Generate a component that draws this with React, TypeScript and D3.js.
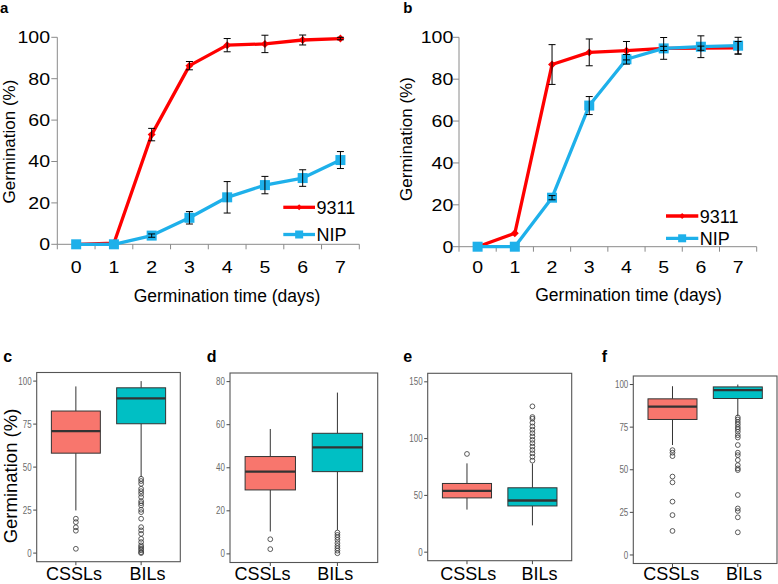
import React from "react";
import * as d3 from "d3";

// ---------- Line charts (a, b) ----------
const days = [0, 1, 2, 3, 4, 5, 6, 7];
const yTicksLine = [0, 20, 40, 60, 80, 100];
const seriesNames = ["9311", "NIP"];

const a9311 = [0, 0.5, 53, 86.3, 96.2, 96.8, 98.7, 99.4];
const a9311Err = [0, 0, 3, 2, 3.2, 4.2, 2.4, 0.6];
const aNIP = [0, 0, 4.2, 12.8, 22.7, 28.6, 32, 40.7];
const aNIPErr = [0, 0, 0.8, 3, 7.6, 4.2, 4, 4.1];

const b9311 = [0, 6.4, 87, 92.8, 93.6, 94.7, 94.8, 95];
const b9311Err = [0, 0, 9.5, 6.4, 4.4, 1, 1, 3];
const bNIP = [0, 0, 23.4, 67.4, 89.5, 94.7, 95.5, 96];
const bNIPErr = [0, 0, 1, 4.3, 2.3, 5.2, 5.2, 4];

// ---------- Box plots (c, d, e, f) ----------
const groups = ["CSSLs", "BILs"];

const cLow = [24.8, 44.2];
const cQ1 = [58.1, 75.2];
const cMed = [70.9, 90];
const cQ3 = [82.6, 96.1];
const cHigh = [96.9, 100];
const cOutCSSL = [20, 18, 15, 13, 2.5];
const cOutBIL = [43.2, 41.9, 40.3, 37.4, 36, 34.5, 32.6, 30.2, 29, 27.7, 25.2, 23.8, 20, 15.1, 13.2, 11.2, 8.3, 6.4, 4.5, 3.5, 2.5, 1.6, 0.5, 0];
const cTicks = [0, 25, 50, 75, 100];

const dLow = [10.4, 11.1];
const dQ1 = [29.7, 38.2];
const dMed = [38.2, 49.5];
const dQ3 = [45.2, 56];
const dHigh = [58, 74.9];
const dOutCSSL = [6.8, 2.2];
const dOutBIL = [9.9, 8.8, 7.7, 6.5, 5, 3.7, 2.6, 1.5, 0.3];
const dTicks = [0, 20, 40, 60, 80];

const eLow = [37.5, 23.6];
const eQ1 = [47.8, 40.7];
const eMed = [54, 45.5];
const eQ3 = [60.5, 56.7];
const eHigh = [78.2, 78];
const eOutCSSL = [86.5];
const eOutBIL = [128.4, 119, 117.5, 114, 110.7, 107.8, 104.8, 101.9, 98.9, 96, 93, 90, 87, 84, 80.6];
const eTicks = [0, 50, 100, 150];

const fLow = [64.5, 81.5];
const fQ1 = [79.5, 91.8];
const fMed = [87, 96.7];
const fQ3 = [91.6, 98.6];
const fHigh = [99, 100];
const fOutCSSL = [61.5, 60, 58, 46, 42.6, 31.3, 23.4, 14.1];
const fOutBIL = [80.7, 79.5, 78, 76.6, 75, 73.8, 72.3, 70.3, 68.9, 64.5, 60, 58.6, 55.7, 52.7, 50.8, 49.8, 35.2, 27.3, 25.8, 22.1, 13.3];
const fTicks = [0, 25, 50, 75, 100];

const RED = "#FF0000";
const BLUE = "#1EB0EA";
const AXIS = "#8A8A8A";
const FONT = "'Liberation Sans', Arial, sans-serif";

type LineProps = {
  label: string;
  labelX: number;
  xRange: [number, number];
  yRange: [number, number];
  s1: number[]; e1: number[]; s2: number[]; e2: number[];
  yLabelEnd: number;
  xTitleX: number; xTitleY: number;
  yTitleX: number; yTitleY: number;
  legX: [number, number]; legY: [number, number];
};

function LinePanel(p: LineProps) {
  const x = d3.scaleBand<number>().domain(days).range(p.xRange);
  const cx = (d: number) => (x(d) as number) + x.bandwidth() / 2;
  const y = d3.scaleLinear().domain([0, 100]).range(p.yRange);
  const line = d3.line<number>().x((_, i) => cx(days[i])).y((v) => y(v));
  const bounds = d3.range(days.length + 1).map((i) => p.xRange[0] + i * x.bandwidth());
  const diamond = d3.symbol().type(d3.symbolDiamond2).size(40)() as string;
  const diamondL = d3.symbol().type(d3.symbolDiamond2).size(22)() as string;
  const errs = (s: number[], e: number[], key: string) =>
    s.map((v, i) =>
      e[i] > 0 ? (
        <g key={key + i} stroke="#000" strokeWidth={1}>
          <line x1={cx(days[i])} x2={cx(days[i])} y1={y(v - e[i])} y2={y(v + e[i])} />
          <line x1={cx(days[i]) - 3.5} x2={cx(days[i]) + 3.5} y1={y(v + e[i])} y2={y(v + e[i])} />
          <line x1={cx(days[i]) - 3.5} x2={cx(days[i]) + 3.5} y1={y(v - e[i])} y2={y(v - e[i])} />
        </g>
      ) : null
    );
  return (
    <g fontFamily={FONT}>
      <text x={p.labelX} y={12.7} fontSize={15} fontWeight="bold">{p.label}</text>
      <line x1={p.xRange[0]} x2={p.xRange[0]} y1={p.yRange[0]} y2={p.yRange[1]} stroke={AXIS} />
      <line x1={p.xRange[0]} x2={p.xRange[1]} y1={p.yRange[0]} y2={p.yRange[0]} stroke={AXIS} />
      {yTicksLine.map((t) => (
        <g key={"yt" + t}>
          <line x1={p.xRange[0] - 6} x2={p.xRange[0]} y1={y(t)} y2={y(t)} stroke={AXIS} />
          <text transform={`translate(${p.yLabelEnd},${y(t) + 5.8}) scale(1.22,1)`} textAnchor="end" fontSize={16}>{t}</text>
        </g>
      ))}
      {bounds.map((b, i) => (
        <line key={"xb" + i} x1={b} x2={b} y1={p.yRange[0]} y2={p.yRange[0] + 5} stroke={AXIS} />
      ))}
      {days.map((d) => (
        <text key={"xt" + d} transform={`translate(${cx(d)},${272.5}) scale(1.22,1)`} textAnchor="middle" fontSize={16}>{d}</text>
      ))}
      <text x={p.xTitleX} y={p.xTitleY} textAnchor="middle" fontSize={17.5}>Germination time (days)</text>
      <text transform={`translate(${p.yTitleX},${p.yTitleY}) rotate(-90)`} textAnchor="middle" fontSize={17}>Germination (%)</text>
      <path d={line(p.s1) as string} fill="none" stroke={RED} strokeWidth={3.3} strokeLinejoin="round" />
      {p.s1.map((v, i) => (
        <path key={"m1" + i} d={diamond} transform={`translate(${cx(days[i])},${y(v)})`} fill={RED} />
      ))}
      <path d={line(p.s2) as string} fill="none" stroke={BLUE} strokeWidth={3.3} strokeLinejoin="round" />
      {p.s2.map((v, i) => (
        <rect key={"m2" + i} x={cx(days[i]) - 5} y={y(v) - 5} width={10} height={10} fill={BLUE} />
      ))}
      {errs(p.s1, p.e1, "e1")}
      {errs(p.s2, p.e2, "e2")}
      <line x1={p.legX[0]} x2={p.legX[1]} y1={p.legY[0]} y2={p.legY[0]} stroke={RED} strokeWidth={3.3} />
      <path d={diamondL} transform={`translate(${(p.legX[0] + p.legX[1]) / 2},${p.legY[0]})`} fill={RED} />
      <text x={p.legX[1] + 1.5} y={p.legY[0] + 6.5} fontSize={18}>{seriesNames[0]}</text>
      <line x1={p.legX[0]} x2={p.legX[1]} y1={p.legY[1]} y2={p.legY[1]} stroke={BLUE} strokeWidth={3.3} />
      <rect x={(p.legX[0] + p.legX[1]) / 2 - 4} y={p.legY[1] - 4} width={8} height={8} fill={BLUE} />
      <text x={p.legX[1] + 1.5} y={p.legY[1] + 6.5} fontSize={18}>{seriesNames[1]}</text>
    </g>
  );
}

type BoxProps = {
  label: string; labelX: number;
  left: number; right: number; top: number; bottom: number;
  domain: [number, number];
  ticks: number[];
  low: number[]; q1: number[]; med: number[]; q3: number[]; high: number[];
  outs: number[][];
  labelXs: [number, number];
  yTitle?: boolean;
};

const FILLS = ["#F8766D", "#00BFC4"];

function BoxPanel(p: BoxProps) {
  const x = d3.scaleLinear().domain([0.4, 2.6]).range([p.left, p.right]);
  const y = d3.scaleLinear().domain(p.domain).range([p.bottom, p.top]);
  const bw = x(1.375) - x(1);
  return (
    <g fontFamily={FONT}>
      <text x={p.labelX} y={362} fontSize={16} fontWeight="bold">{p.label}</text>
      {p.yTitle ? (
        <text transform={`translate(16.5,476) rotate(-90)`} textAnchor="middle" fontSize={18.5}>Germination (%)</text>
      ) : null}
      {p.ticks.map((t) => (
        <g key={"t" + t}>
          <line x1={p.left - 3.5} x2={p.left} y1={y(t)} y2={y(t)} stroke="#333" strokeWidth={0.9} />
          <text transform={`translate(${p.left - 5},${y(t) + 3.6}) scale(0.8,1)`} textAnchor="end" fontSize={10} fill="#6b6b6b">{t}</text>
        </g>
      ))}
      {groups.map((g, i) => {
        const c = x(i + 1);
        return (
          <g key={g}>
            <line x1={c} x2={c} y1={y(p.high[i])} y2={y(p.q3[i])} stroke="#333" strokeWidth={1} />
            <line x1={c} x2={c} y1={y(p.q1[i])} y2={y(p.low[i])} stroke="#333" strokeWidth={1} />
            <rect x={c - bw} y={y(p.q3[i])} width={2 * bw} height={y(p.q1[i]) - y(p.q3[i])} fill={FILLS[i]} stroke="#333" strokeWidth={1} />
            <line x1={c - bw} x2={c + bw} y1={y(p.med[i])} y2={y(p.med[i])} stroke="#333" strokeWidth={2.3} />
            {p.outs[i].map((v, k) => (
              <circle key={k} cx={c} cy={y(v)} r={2.4} fill="none" stroke="#333" strokeWidth={0.8} />
            ))}
            <line x1={c} x2={c} y1={p.bottom} y2={p.bottom + 3.5} stroke="#333" strokeWidth={0.9} />
            <text x={p.labelXs[i]} y={579.5} textAnchor="middle" fontSize={18}>{g}</text>
          </g>
        );
      })}
      <rect x={p.left} y={p.top} width={p.right - p.left} height={p.bottom - p.top} fill="none" stroke="#555" strokeWidth={1.1} />
    </g>
  );
}

export default function App() {
  return (
    <svg width={778} height={584} style={{ position: "absolute", left: 0, top: 0, background: "#fff" }}>
      <rect width={778} height={584} fill="#fff" />
      <LinePanel label="a" labelX={0} xRange={[57.3, 359.3]} yRange={[244.3, 37.3]}
        s1={a9311} e1={a9311Err} s2={aNIP} e2={aNIPErr}
        yLabelEnd={50} xTitleX={227} xTitleY={302} yTitleX={14.5} yTitleY={141.5}
        legX={[283.3, 315]} legY={[207.3, 234.5]} />
      <LinePanel label="b" labelX={403.3} xRange={[459, 756.7]} yRange={[246.7, 37.3]}
        s1={b9311} e1={b9311Err} s2={bNIP} e2={bNIPErr}
        yLabelEnd={453.3} xTitleX={628.6} xTitleY={301} yTitleX={412} yTitleY={139}
        legX={[666, 698.3]} legY={[216, 238.3]} />
      <BoxPanel label="c" labelX={3.3} left={36.7} right={180.3} top={372.5} bottom={561.7} domain={[-5, 105]} ticks={cTicks}
        low={cLow} q1={cQ1} med={cMed} q3={cQ3} high={cHigh} outs={[cOutCSSL, cOutBIL]} labelXs={[74, 147.5]} yTitle />
      <BoxPanel label="d" labelX={206.7} left={230} right={377.7} top={373} bottom={562.5} domain={[-4, 84]} ticks={dTicks}
        low={dLow} q1={dQ1} med={dMed} q3={dQ3} high={dHigh} outs={[dOutCSSL, dOutBIL]} labelXs={[262.5, 335.3]} />
      <BoxPanel label="e" labelX={403.3} left={427.7} right={571.7} top={373.3} bottom={560.7} domain={[-7.5, 157.5]} ticks={eTicks}
        low={eLow} q1={eQ1} med={eMed} q3={eQ3} high={eHigh} outs={[eOutCSSL, eOutBIL]} labelXs={[468.3, 539.5]} />
      <BoxPanel label="f" labelX={601.7} left={633.3} right={777} top={376} bottom={563.5} domain={[-5, 105]} ticks={fTicks}
        low={fLow} q1={fQ1} med={fMed} q3={fQ3} high={fHigh} outs={[fOutCSSL, fOutBIL]} labelXs={[671.3, 744]} />
    </svg>
  );
}
